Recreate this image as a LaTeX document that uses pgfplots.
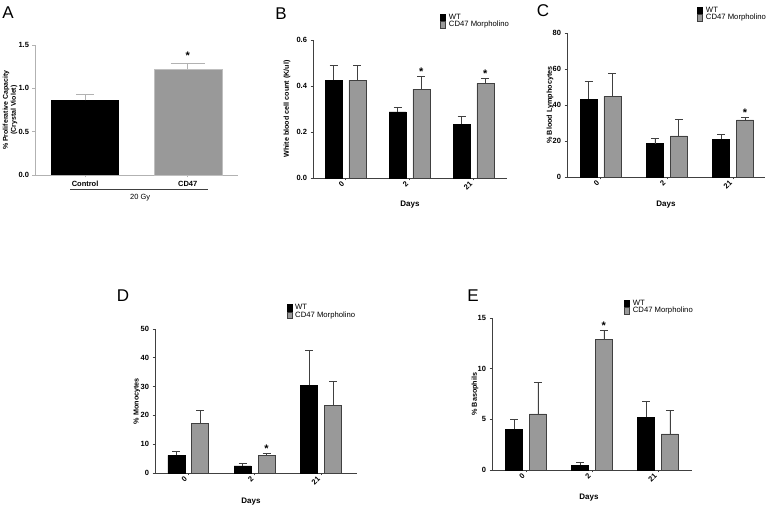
\documentclass[border=0pt]{standalone}
\usepackage{fontspec}
\setmainfont{Liberation Sans}
\usepackage{pgfplots}
\pgfplotsset{compat=1.18}
\tikzset{sigstar/.style={anchor=base, yshift=1pt, inner sep=0pt, font=\bfseries\fontsize{11}{11}\selectfont}}
\begin{document}
\begin{tikzpicture}
\path[use as bounding box] (0pt,0pt) rectangle (779pt,508pt);
\pgfplotsset{
  panel/.style={
    scale only axis, axis lines=left, axis line style={-, black!75, line width=0.6pt},
    tick align=outside, major tick length=2.5pt, tick style={black!75, line width=0.6pt},
    ymin=0,
    y tick label style={font=\bfseries\fontsize{7.5}{8}\selectfont},
    /pgf/number format/assume math mode=true,
    clip=false,
    ylabel style={font=\bfseries\fontsize{7.2}{8}\selectfont, anchor=center},
    legend cell align=left,
    legend style={draw=none, fill=none, font=\fontsize{7.7}{8.5}\selectfont, anchor=north west, inner sep=0pt, row sep=-1pt, nodes={inner sep=0.8pt},
      /tikz/every odd column/.append style={column sep=2.5pt}},
  },
  days/.style={
    xtick={0,1,2}, xticklabels={0,2,21},
    x tick label style={rotate=45, anchor=east, font=\bfseries\fontsize{7.5}{8}\selectfont},
    xlabel={Days}, xlabel style={font=\bfseries\fontsize{8}{9}\selectfont, at={(axis description cs:0.5,-0.19)}, anchor=center},
  },
  wt/.style={ybar, bar width=17pt, bar shift=0pt, fill=black, draw=black, line width=0.5pt,
    legend image code/.code={\draw[fill=black,draw=black,line width=0.4pt] (0pt,-3.3pt) rectangle (5pt,3.3pt);},
    error bars/.cd, y dir=plus, y explicit, error bar style={black!75, line width=0.7pt},
    error mark options={rotate=90, mark size=4pt, black!75, line width=0.7pt}},
  cd/.style={ybar, bar width=17pt, bar shift=0pt, fill=black!40, draw=black!75, line width=0.6pt,
    legend image code/.code={\draw[fill=black!40,draw=black!75,line width=0.4pt] (0pt,-3.3pt) rectangle (5pt,3.3pt);},
    error bars/.cd, y dir=plus, y explicit, error bar style={black!75, line width=0.7pt},
    error mark options={rotate=90, mark size=4pt, black!75, line width=0.7pt}},
}
% Panel letters
\node[font=\fontsize{17}{17}\selectfont] at (8pt,495pt) {A};
\node[font=\fontsize{17}{17}\selectfont] at (281pt,494pt) {B};
\node[font=\fontsize{17}{17}\selectfont] at (543pt,497pt) {C};
\node[font=\fontsize{17}{17}\selectfont] at (123pt,212pt) {D};
\node[font=\fontsize{17}{17}\selectfont] at (473pt,212pt) {E};

% Panel A
\begin{axis}[panel, at={(35pt,333pt)}, anchor=south west, width=203pt, height=130pt,
  axis line style={-, black!30, line width=0.6pt}, tick style={black!30, line width=0.6pt},
  xmin=-0.488, xmax=1.49, ymax=1.5, ytick={0,0.5,1,1.5},
  yticklabel style={/pgf/number format/.cd, fixed, fixed zerofill, precision=1},
  xtick={0,1}, xticklabels={Control,CD47},
  x tick label style={anchor=north, font=\bfseries\fontsize{7.5}{8}\selectfont},
  ylabel={\% Proliferative  Capacity\\(Crystal  Violet)},
  ylabel style={align=center, font=\bfseries\fontsize{7}{8}\selectfont, at={(axis description cs:-0.123,0.5)}},
]
\addplot[ybar, bar width=68pt, bar shift=0pt, fill=black, draw=none,
  error bars/.cd, y dir=plus, y explicit, error bar style={black!30, line width=0.8pt},
  error mark options={rotate=90, mark size=9pt, black!30, line width=0.8pt}]
  table[x=x, y=y, y error=e] {
x y e
0 0.86 0.07
};
\addplot[ybar, bar width=68pt, bar shift=0pt, fill=black!40, draw=black!25,
  error bars/.cd, y dir=plus, y explicit, error bar style={black!30, line width=0.8pt},
  error mark options={rotate=90, mark size=17pt, black!30, line width=0.8pt}]
  table[x=x, y=y, y error=e] {
x y e
1 1.22 0.07
};
\node[sigstar, yshift=3pt] at (axis cs:1,1.29) {*};
\draw[black!75, line width=0.6pt] ([yshift=-14pt]axis cs:-0.146,0) -- ([yshift=-14pt]axis cs:1.2,0);
\node[font=\fontsize{7.5}{8}\selectfont] at ([yshift=-23pt]axis cs:0.537,0) {20  Gy};
\end{axis}

% Panel B
\begin{axis}[panel, days, at={(313pt,330pt)}, anchor=south west, width=194pt, height=138pt,
  xmin=-0.508, xmax=2.524, ymax=0.6, ytick={0,0.2,0.4,0.6},
  yticklabel style={/pgf/number format/.cd, fixed, fixed zerofill, precision=1},
  ylabel={White blood cell count (K/ul)},
  ylabel style={at={(axis description cs:-0.134,0.5)}},
  legend style={at={(axis description cs:0.655,1.196)}},
]
\addplot[wt] table[x expr=\thisrow{x}-0.185, y=y, y error=e] {
x y e
0 0.425 0.065
1 0.288 0.019
2 0.234 0.035
};
\addplot[cd] table[x expr=\thisrow{x}+0.185, y=y, y error=e] {
x y e
0 0.425 0.065
1 0.386 0.054
2 0.411 0.022
};
\legend{WT, CD47 Morpholino}
\node[sigstar] at (axis cs:1.185,0.44) {*};
\node[sigstar] at (axis cs:2.185,0.433) {*};
\end{axis}

% Panel C
\begin{axis}[panel, days, at={(567pt,331pt)}, anchor=south west, width=198pt, height=144pt,
  xmin=-0.505, xmax=2.48, ymax=80, ytick={0,20,40,60,80},
  ylabel={\% Blood Lymphocytes},
  ylabel style={at={(axis description cs:-0.086,0.5)}},
  legend style={at={(axis description cs:0.657,1.1875)}},
]
\addplot[wt] table[x expr=\thisrow{x}-0.18, y=y, y error=e] {
x y e
0 43.3 9.8
1 18.5 2.8
2 20.9 2.8
};
\addplot[cd] table[x expr=\thisrow{x}+0.18, y=y, y error=e] {
x y e
0 44.8 12.8
1 22.8 9.2
2 31.7 1.4
};
\legend{WT, CD47 Morpholino}
\node[sigstar] at (axis cs:2.18,33.1) {*};
\end{axis}

% Panel D
\begin{axis}[panel, days, at={(155pt,35pt)}, anchor=south west, width=202pt, height=144pt,
  xmin=-0.5, xmax=2.54, ymax=50, ytick={0,10,20,30,40,50},
  ylabel={\% Monocytes},
  ylabel style={at={(axis description cs:-0.09,0.5)}},
  xlabel style={at={(axis description cs:0.475,-0.2)}},
  legend style={at={(axis description cs:0.65,1.18)}},
]
\addplot[wt] table[x expr=\thisrow{x}-0.18, y=y, y error=e] {
x y e
0 6.1 1.5
1 2.5 0.7
2 30.4 12.3
};
\addplot[cd] table[x expr=\thisrow{x}+0.18, y=y, y error=e] {
x y e
0 17.3 4.3
1 6.0 0.9
2 23.4 8.4
};
\legend{WT, CD47 Morpholino}
\node[sigstar] at (axis cs:1.18,6.9) {*};
\end{axis}

% Panel E
\begin{axis}[panel, days, at={(492pt,38pt)}, anchor=south west, width=200pt, height=152pt,
  xmin=-0.515, xmax=2.515, ymax=15, ytick={0,5,10,15},
  ylabel={\% Basophils},
  ylabel style={at={(axis description cs:-0.085,0.5)}},
  xlabel style={at={(axis description cs:0.485,-0.184)}},
  legend style={at={(axis description cs:0.66,1.125)}},
]
\addplot[wt] table[x expr=\thisrow{x}-0.18, y=y, y error=e] {
x y e
0 4.02 1.0
1 0.49 0.24
2 5.2 1.53
};
\addplot[cd] table[x expr=\thisrow{x}+0.18, y=y, y error=e] {
x y e
0 5.54 3.1
1 12.86 0.94
2 3.56 2.28
};
\legend{WT, CD47 Morpholino}
\node[sigstar] at (axis cs:1.18,13.8) {*};
\end{axis}
\end{tikzpicture}
\end{document}
